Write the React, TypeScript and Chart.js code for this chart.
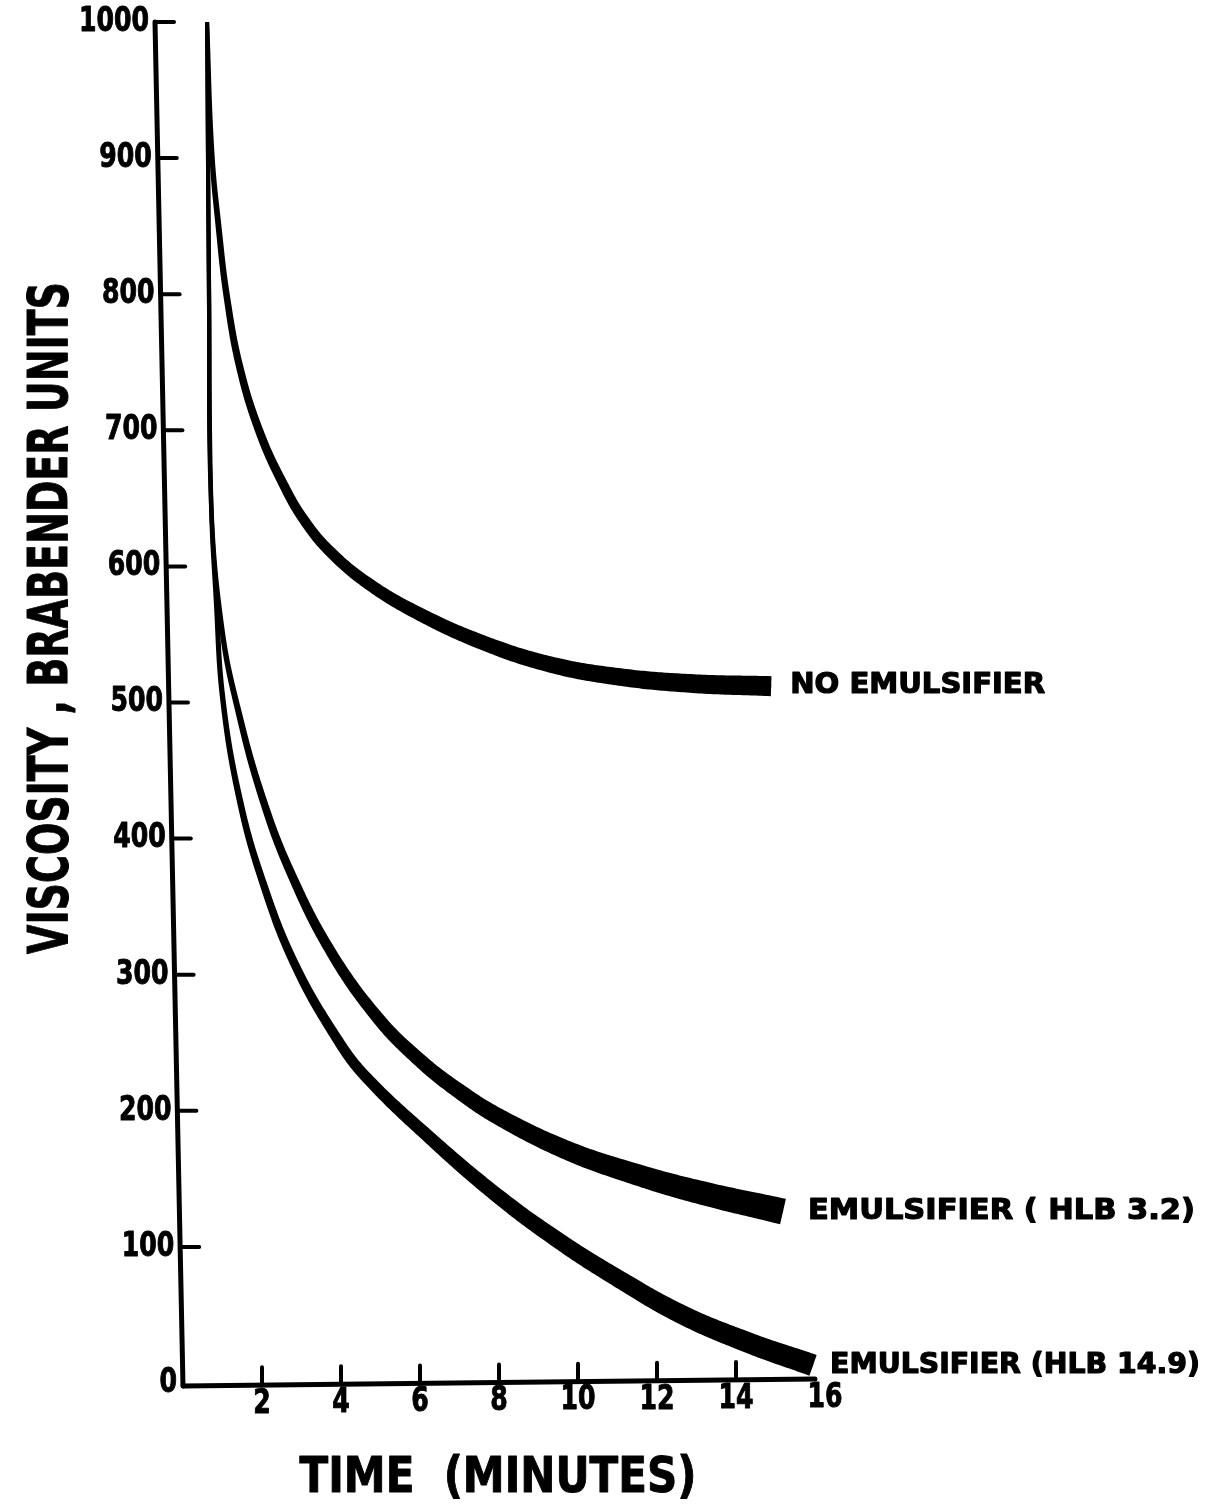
import React, { useEffect, useRef } from "react";
import { Chart, registerables } from "chart.js";

Chart.register(...registerables);

// ---- data ----
const timeNoEmulsifier = [0.61, 0.73, 0.91, 1.11, 1.44, 1.95, 2.58, 3.09, 3.72, 4.66, 5.92, 7.59, 9.29, 10.99, 12.84, 14.89];
const viscNoEmulsifier = [1000, 904, 847, 798, 746, 698, 658, 633, 611, 588, 566, 544, 528, 519, 514, 512];

const timeHlb32 = [0.61, 0.66, 0.71, 0.99, 1.44, 2.03, 2.71, 3.72, 4.91, 6.0, 7.01, 8.03, 9.72, 11.39, 13.09, 15.19];
const viscHlb32 = [1000, 796, 649, 553, 489, 428, 376, 318, 269, 237, 214, 195, 171, 154, 140, 126];

const timeHlb149 = [0.61, 0.66, 0.71, 0.84, 1.01, 1.44, 2.03, 2.84, 3.92, 4.66, 6.33, 8.03, 9.54, 10.89, 12.58, 14.28, 15.95];
const viscHlb149 = [1000, 796, 649, 575, 502, 428, 367, 307, 252, 224, 178, 136, 104, 79, 51, 30, 13];

const seriesLabels = ["NO EMULSIFIER", "EMULSIFIER ( HLB 3.2)", "EMULSIFIER (HLB 14.9)"];
const yTickValues = [0, 100, 200, 300, 400, 500, 600, 700, 800, 900, 1000];
const xTickValues = [2, 4, 6, 8, 10, 12, 14, 16];
const xAxisTitle = "TIME  (MINUTES)";
const yAxisTitle = "VISCOSITY , BRABENDER UNITS";

// ---- styles ----
const INK = "#000";
const FONT = '"DejaVu Sans", sans-serif';
// stroke thickness: [start px, end px, growth exponent]
const bandWidths = [
  [4, 20, 0.55],
  [4, 26, 0.8],
  [4, 22, 0.7],
];
const labelWidths = [255, 387, 370];
const labelGaps = [19, 25, 17];

function bandWidth(di: number, xv: number, xs: number[]) {
  const [w0, w1, p] = bandWidths[di];
  const t = Math.min(1, Math.max(0, (xv - xs[0]) / (xs[xs.length - 1] - xs[0])));
  return w0 + (w1 - w0) * Math.pow(t, p);
}

function drawScaledText(
  ctx: CanvasRenderingContext2D,
  text: string,
  x: number,
  y: number,
  font: string,
  opts: { width?: number; scale?: number; align: CanvasTextAlign; stroke?: number }
) {
  ctx.save();
  ctx.font = font;
  const w = ctx.measureText(text).width;
  const s = opts.width ? opts.width / w : opts.scale || 1;
  ctx.translate(x, y);
  ctx.scale(s, 1);
  ctx.textAlign = opts.align;
  ctx.textBaseline = "middle";
  ctx.fillStyle = INK;
  ctx.fillText(text, 0, 0);
  if (opts.stroke) {
    ctx.strokeStyle = INK;
    ctx.lineWidth = opts.stroke;
    ctx.lineJoin = "round";
    ctx.strokeText(text, 0, 0);
  }
  ctx.restore();
}

// Variable-width ink stroke along the curve Chart.js computed for each dataset
const bandPlugin = {
  id: "inkBands",
  afterDatasetsDraw(chart: any) {
    const ctx: CanvasRenderingContext2D = chart.ctx;
    const xScale = chart.scales.x;
    const seriesTimes = [timeNoEmulsifier, timeHlb32, timeHlb149];
    chart.data.datasets.forEach((_ds: any, di: number) => {
      const meta = chart.getDatasetMeta(di);
      const pts = meta.data;
      const samples: { x: number; y: number }[] = [];
      for (let i = 0; i < pts.length - 1; i++) {
        const a = pts[i];
        const b = pts[i + 1];
        const c1x = a.cp2x ?? a.x;
        const c1y = a.cp2y ?? a.y;
        const c2x = b.cp1x ?? b.x;
        const c2y = b.cp1y ?? b.y;
        const N = 30;
        for (let k = i === 0 ? 0 : 1; k <= N; k++) {
          const t = k / N;
          const mt = 1 - t;
          const x = mt * mt * mt * a.x + 3 * mt * mt * t * c1x + 3 * mt * t * t * c2x + t * t * t * b.x;
          const y = mt * mt * mt * a.y + 3 * mt * mt * t * c1y + 3 * mt * t * t * c2y + t * t * t * b.y;
          samples.push({ x, y });
        }
      }
      const left: number[][] = [];
      const right: number[][] = [];
      for (let k = 0; k < samples.length; k++) {
        const p = samples[Math.max(0, k - 1)];
        const q = samples[Math.min(samples.length - 1, k + 1)];
        let dx = q.x - p.x;
        let dy = q.y - p.y;
        const len = Math.hypot(dx, dy) || 1;
        dx /= len;
        dy /= len;
        const h = bandWidth(di, xScale.getValueForPixel(samples[k].x), seriesTimes[di]) / 2;
        left.push([samples[k].x - dy * h, samples[k].y + dx * h]);
        right.push([samples[k].x + dy * h, samples[k].y - dx * h]);
      }
      ctx.save();
      ctx.fillStyle = INK;
      ctx.beginPath();
      ctx.moveTo(left[0][0], left[0][1]);
      for (const pt of left) ctx.lineTo(pt[0], pt[1]);
      for (let k = right.length - 1; k >= 0; k--) ctx.lineTo(right[k][0], right[k][1]);
      ctx.closePath();
      ctx.fill();
      ctx.restore();
    });
  },
};

const axesPlugin = {
  id: "handAxes",
  afterDraw(chart: any) {
    const ctx: CanvasRenderingContext2D = chart.ctx;
    const xs = chart.scales.x;
    const ys = chart.scales.y;
    const x0 = xs.getPixelForValue(0);
    const y0 = ys.getPixelForValue(0);
    const axisX = (v: number) => x0 - 28 * (v / 1000);
    const xAxisY = (u: number) => y0 + 3 - 7 * (u / 16);

    ctx.save();
    ctx.strokeStyle = INK;
    ctx.lineCap = "round";

    // y axis
    ctx.lineWidth = 5;
    ctx.beginPath();
    ctx.moveTo(axisX(1000), ys.getPixelForValue(1000));
    ctx.lineTo(axisX(0), y0 + 3);
    ctx.stroke();

    // x axis
    ctx.beginPath();
    ctx.moveTo(x0, xAxisY(0));
    ctx.lineTo(xs.getPixelForValue(16), xAxisY(16));
    ctx.stroke();

    // y ticks and labels
    ctx.lineWidth = 4;
    for (const v of yTickValues) {
      const py = ys.getPixelForValue(v);
      if (v !== 0) {
        ctx.beginPath();
        ctx.moveTo(axisX(v), py);
        ctx.lineTo(axisX(v) + 19, py);
        ctx.stroke();
      }
      drawScaledText(ctx, String(v), axisX(v) - 6, py, `bold 34px ${FONT}`, {
        scale: 0.74,
        align: "right",
        stroke: 1,
      });
    }

    // x ticks and labels
    for (const u of xTickValues) {
      const px = xs.getPixelForValue(u);
      if (u !== 16) {
        ctx.beginPath();
        ctx.moveTo(px, xAxisY(u));
        ctx.lineTo(px, xAxisY(u) - 18);
        ctx.stroke();
      }
      const lx = u === 16 ? px + 10 : px;
      drawScaledText(ctx, String(u), lx, xAxisY(u) + 19, `bold 34px ${FONT}`, {
        scale: 0.74,
        align: "center",
        stroke: 1,
      });
    }

    // axis titles
    drawScaledText(ctx, xAxisTitle, 498, 1479, `bold 50px ${FONT}`, { width: 397, align: "center", stroke: 1 });
    ctx.save();
    ctx.translate(52, 618);
    ctx.rotate(-Math.PI / 2);
    drawScaledText(ctx, yAxisTitle, 0, 0, `bold 56px ${FONT}`, { width: 672, align: "center", stroke: 1 });
    ctx.restore();

    // series labels at the end of each curve
    chart.data.datasets.forEach((_ds: any, di: number) => {
      const meta = chart.getDatasetMeta(di);
      const last = meta.data[meta.data.length - 1];
      drawScaledText(ctx, seriesLabels[di], last.x + labelGaps[di], last.y, `bold 28px ${FONT}`, {
        width: labelWidths[di],
        align: "left",
        stroke: 1.2,
      });
    });
    ctx.restore();
  },
};

function toPoints(xs: number[], ys: number[]) {
  return xs.map((x, i) => ({ x, y: ys[i] }));
}

export default function App() {
  const ref = useRef<HTMLCanvasElement | null>(null);

  useEffect(() => {
    if (!ref.current) return;
    const mk = (xs: number[], ys: number[], label: string) => ({
      label,
      data: toPoints(xs, ys),
      borderColor: INK,
      backgroundColor: INK,
      borderWidth: 3,
      tension: 0.4,
      pointRadius: 0,
      fill: false,
      clip: false as any,
    });
    const chart = new Chart(ref.current, {
      type: "line",
      data: {
        datasets: [
          mk(timeNoEmulsifier, viscNoEmulsifier, seriesLabels[0]),
          mk(timeHlb32, viscHlb32, seriesLabels[1]),
          mk(timeHlb149, viscHlb149, seriesLabels[2]),
        ],
      },
      options: {
        responsive: false,
        animation: false,
        layout: { padding: { left: 183, right: 1213 - 815, top: 22, bottom: 1506 - 1383 } },
        plugins: { legend: { display: false }, tooltip: { enabled: false } },
        scales: {
          x: { type: "linear", min: 0, max: 16, display: false },
          y: { type: "linear", min: 0, max: 1000, display: false },
        },
      },
      plugins: [bandPlugin, axesPlugin],
    });
    return () => chart.destroy();
  }, []);

  return (
    <div style={{ position: "absolute", left: 0, top: 0, width: 1213, height: 1506, background: "#fff" }}>
      <canvas ref={ref} width={1213} height={1506} style={{ display: "block" }} />
    </div>
  );
}
